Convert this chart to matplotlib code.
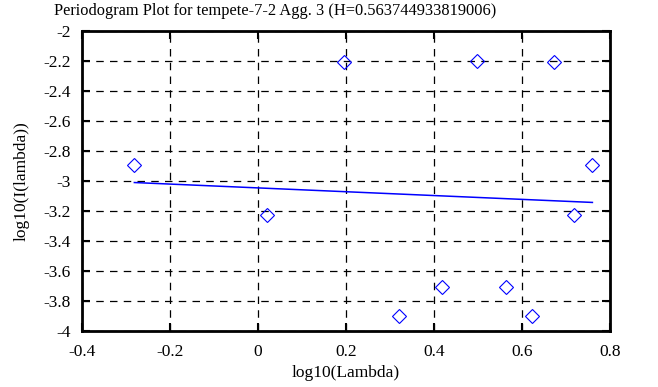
import numpy as np
import matplotlib
matplotlib.use("Agg")
import matplotlib.pyplot as plt

# periodogram points
log_lambda = [-0.281, 0.020, 0.196, 0.321, 0.418, 0.497, 0.564, 0.622, 0.673, 0.719, 0.760]
log_i = [-2.895, -3.229, -2.206, -3.897, -3.707, -2.200, -3.707, -3.897, -2.206, -3.229, -2.895]

# least squares line, H = (1 - slope) / 2
slope = -0.1275
intercept = -3.046
hurst = 0.563744933819006

plt.rcParams['font.family'] = ['Liberation Serif', 'DejaVu Serif']

fig = plt.figure(figsize=(6.58, 3.87), dpi=100)
ax = fig.add_axes([82 / 658, 56 / 387, 528 / 658, 300 / 387])

x = np.array(log_lambda)
fit_x = np.array([x.min(), x.max()])
ax.plot(fit_x, intercept + slope * fit_x, color='#0000ff', lw=1.1, zorder=3)
ax.plot(log_lambda, log_i, linestyle='none', marker='D', markersize=7.2,
        markerfacecolor='none', markeredgecolor='#0000ff', markeredgewidth=0.8, zorder=4)

ax.set_xlim(-0.4, 0.8)
ax.set_ylim(-4, -2)
ax.set_xticks(np.arange(-0.4, 0.81, 0.2))
ax.set_yticks(np.arange(-4, -1.99, 0.2))
ax.set_xticklabels(['-0.4', '-0.2', '0', '0.2', '0.4', '0.6', '0.8'])
ax.set_yticklabels(['-4', '-3.8', '-3.6', '-3.4', '-3.2', '-3', '-2.8', '-2.6', '-2.4', '-2.2', '-2'])
ax.tick_params(direction='in', length=6, width=1.5, top=True, right=True,
               labelsize=12.5, colors='black')
ax.tick_params(axis='x', pad=9)
ax.tick_params(axis='y', pad=8)
ax.grid(True, color='black', linestyle=(0, (6, 5)), linewidth=0.9)
for s in ax.spines.values():
    s.set_linewidth(2)

fig.text(275 / 658, 1 - 11 / 387, 'Periodogram Plot for tempete-7-2 Agg. 3 (H={})'.format(hurst),
         fontsize=11.8, ha='center', va='center')
ax.set_xlabel('log10(Lambda)', fontsize=12.5, labelpad=4)
ax.set_ylabel('log10(I(lambda))', fontsize=12.5, labelpad=10)

fig.savefig('out.png', dpi=100)
